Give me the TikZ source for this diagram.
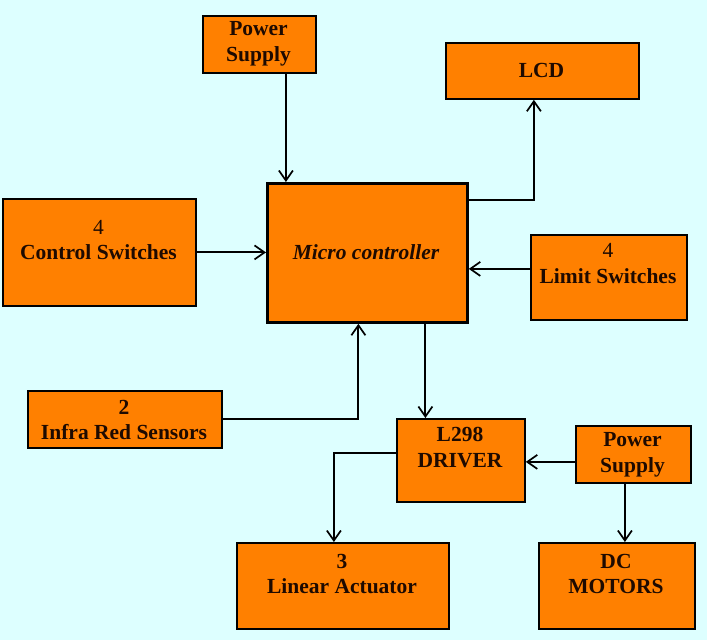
\documentclass[tikz,border=0pt]{standalone}
\usepackage{fontspec}
\setmainfont{Liberation Serif}
\usetikzlibrary{arrows.meta}
\definecolor{bgc}{RGB}{221,255,255}
\definecolor{boxc}{RGB}{255,128,0}
\definecolor{txtc}{RGB}{30,10,0}
\begin{document}
\begin{tikzpicture}[x=1pt,y=-1pt,
  blk/.style={draw=black, fill=boxc, line width=1.8pt, inner sep=0pt, anchor=north west},
  lbl/.style={align=center, text=txtc, font=\fontsize{21.5}{25.5}\selectfont\bfseries, inner sep=0pt},
  arr/.style={line width=1.9pt, -{Straight Barb[length=10pt,width=14pt,line width=1.7pt]}}]
\fill[bgc] (0,0) rectangle (707,640);
\useasboundingbox (0,0) rectangle (707,640);
% boxes
\node[blk, minimum width=113pt, minimum height=57pt] (ps1) at (202,15) {};
\node[blk, minimum width=193pt, minimum height=56pt] (lcd) at (445,42) {};
\node[blk, line width=2.8pt, minimum width=200pt, minimum height=139pt] (mc) at (266,182) {};
\node[blk, minimum width=193pt, minimum height=107pt] (cs) at (2,198) {};
\node[blk, minimum width=156pt, minimum height=85pt] (ls) at (530,234) {};
\node[blk, minimum width=194pt, minimum height=57pt] (ir) at (27,390) {};
\node[blk, minimum width=128pt, minimum height=83pt] (drv) at (396,418) {};
\node[blk, minimum width=115pt, minimum height=57pt] (ps2) at (575,425) {};
\node[blk, minimum width=212pt, minimum height=86pt] (la) at (236,542) {};
\node[blk, minimum width=156pt, minimum height=86pt] (dc) at (538,542) {};
% labels
\node[lbl] (ps1t) at (258.5,44) {Power\\Supply};
\node[lbl] (lcdt) at (541.5,70) {LCD};
\node[lbl, font=\fontsize{21.5}{25.5}\selectfont\bfseries\itshape] (mct) at (366,252) {Micro controller};
\node[lbl] (cst) at (98.5,240) {{\mdseries 4}\\Control Switches};
\node[lbl] (lst) at (608,263.5) {{\mdseries 4}\\Limit Switches};
\node[lbl] (irt) at (124,420) {2\\Infra Red Sensors};
\node[lbl] (drvt) at (460,447.5) {L298\\DRIVER};
\node[lbl] (ps2t) at (632.5,455) {Power\\Supply};
\node[lbl] (lat) at (342,574) {3\\Linear Actuator};
\node[lbl] (dct) at (616,574) {DC\\MOTORS};
% connectors
\coordinate (a1) at ([xshift=26.5pt]ps1.south);
\draw[arr] (a1) -- (a1 |- mc.north);
\coordinate (a2) at ([yshift=-18pt]mc.north east);
\coordinate (a3) at ([xshift=-8.5pt]lcd.south);
\draw[arr] (a2) -| (a3);
\draw[arr] (cs.east) -- (cs.east -| mc.west);
\coordinate (a4) at ([yshift=8.5pt]ls.west);
\draw[arr] (a4) -- (a4 -| mc.east);
\coordinate (a5) at ([xshift=-9pt]mc.south);
\draw[arr] (ir.east) -| (a5);
\coordinate (a6) at ([xshift=58pt]mc.south);
\draw[arr] (a6) -- (a6 |- drv.north);
\coordinate (a7) at ([yshift=-7.5pt]ps2.west);
\draw[arr] (a7) -- (a7 -| drv.east);
\coordinate (a8) at ([yshift=7.5pt]drv.west);
\coordinate (a9) at ([xshift=-9pt]la.north);
\draw[arr] (a8) -| (a9);
\coordinate (a10) at ([xshift=-8.5pt]ps2.south);
\draw[arr] (a10) -- (a10 |- dc.north);
\end{tikzpicture}
\end{document}
